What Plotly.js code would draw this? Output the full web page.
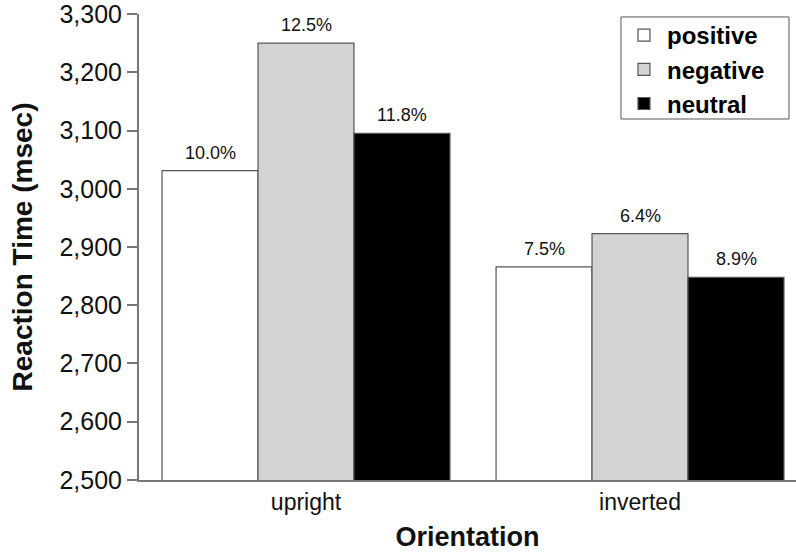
<!DOCTYPE html>
<html>
<head>
<meta charset="utf-8">
<script src="https://cdn.plot.ly/plotly-3.0.1.min.js"></script>
<style>html,body{margin:0;padding:0;background:#fff;}#chart{width:796px;height:553px;}</style>
</head>
<body>
<div id="chart"></div>
<script>
const categories = ["upright", "inverted"];
const seriesNames = ["positive", "negative", "neutral"];
const positiveRT = [3031, 2866];
const negativeRT = [3250, 2923];
const neutralRT = [3095, 2848];
const positiveErr = ["10.0%", "7.5%"];
const negativeErr = ["12.5%", "6.4%"];
const neutralErr = ["11.8%", "8.9%"];
const yTickVals = [2500, 2600, 2700, 2800, 2900, 3000, 3100, 3200, 3300];

const FONT = "Liberation Sans, Arial, Helvetica, sans-serif";
const fills = ["#ffffff", "#d3d3d3", "#000000"];
const values = [positiveRT, negativeRT, neutralRT];
const labels = [positiveErr, negativeErr, neutralErr];

const traces = seriesNames.map((name, i) => ({
  type: "bar",
  name: name,
  x: categories,
  y: values[i],
  marker: {color: fills[i], line: {color: "#555555", width: 1.2}},
  hoverinfo: "skip"
}));

const annotations = [];
labels.forEach((labs, i) => {
  labs.forEach((t, j) => {
    annotations.push({
      x: categories[j], y: values[i][j], xref: "x", yref: "y",
      text: t, showarrow: false, yanchor: "bottom", yshift: 6,
      xshift: (i - 1) * 96,
      font: {family: FONT, size: 18, color: "#111"}
    });
  });
});

const layout = {
  width: 796, height: 553,
  margin: {l: 139, r: 0, t: 14, b: 73},
  paper_bgcolor: "#fff", plot_bgcolor: "#fff",
  barmode: "group", bargap: 0.138, bargroupgap: 0,
  showlegend: true,
  legend: {
    x: 0.7336, y: 1.0021, xanchor: "left", yanchor: "top",
    borderwidth: 0, bgcolor: "rgba(0,0,0,0)",
    font: {family: FONT, size: 24, color: "#000", weight: "bold"},
    tracegroupgap: 0, itemwidth: 36
  },
  shapes: [{
    type: "rect", xref: "paper", yref: "paper",
    x0: 0.7336, x1: 0.9893, y0: 0.7747, y1: 0.9936,
    line: {color: "#555", width: 1}, fillcolor: "rgba(0,0,0,0)", layer: "above"
  }],
  xaxis: {
    range: [-0.5, 1.467], type: "category",
    showline: true, linecolor: "#777", linewidth: 2,
    ticks: "", showgrid: false, zeroline: false,
    tickfont: {family: FONT, size: 23, color: "#111"},
    title: {text: "Orientation", font: {family: FONT, size: 27, color: "#111", weight: "bold"}, standoff: 14}
  },
  yaxis: {
    range: [2499.9, 3300.1], tickvals: yTickVals, ticktext: yTickVals.map(v => v.toLocaleString("en-US")),
    showline: true, linecolor: "#777", linewidth: 2,
    ticks: "outside", ticklen: 10, tickcolor: "#777", tickwidth: 2,
    ticklabeloverflow: "allow",
    showgrid: false, zeroline: false,
    tickfont: {family: FONT, size: 25, color: "#111"},
    title: {text: "Reaction Time (msec)", font: {family: FONT, size: 28, color: "#111", weight: "bold"}, standoff: 19}
  },
  annotations: annotations
};

Plotly.newPlot("chart", traces, layout, {displayModeBar: false, staticPlot: true});
</script>
</body>
</html>
